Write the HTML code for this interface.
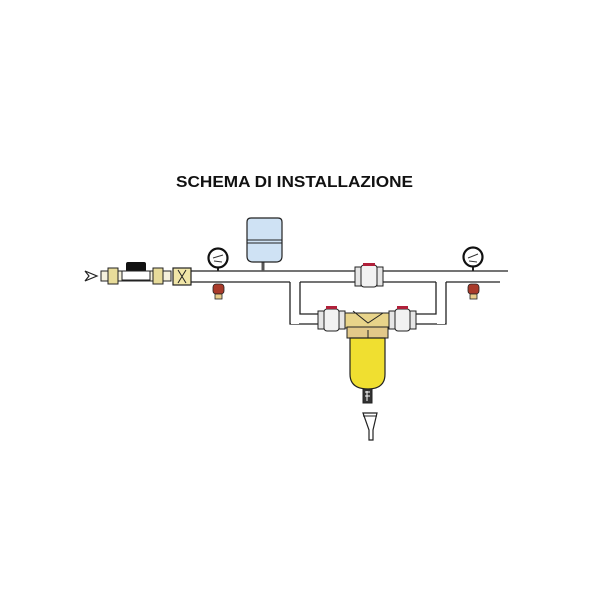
<!DOCTYPE html>
<html><head><meta charset="utf-8"><style>
html,body{margin:0;padding:0;background:#fff;width:600px;height:600px;overflow:hidden}
</style></head><body>
<svg width="600" height="600" viewBox="0 0 600 600" xmlns="http://www.w3.org/2000/svg">
<rect width="600" height="600" fill="#fff"/>
<text x="176" y="187" font-family="Liberation Sans, sans-serif" font-weight="bold" font-size="15.5" textLength="237" lengthAdjust="spacingAndGlyphs" fill="#111">SCHEMA DI INSTALLAZIONE</text>

<!-- bypass loop pipes -->
<g fill="none" stroke="#222" stroke-width="1.3">
<path d="M290 282 V324 H446 V282"/>
<path d="M300 282 V314 H436 V282"/>
</g>
<!-- main pipe -->
<rect x="190" y="271" width="318" height="11" fill="#fff"/>
<line x1="190" y1="271" x2="508" y2="271" stroke="#222" stroke-width="1.3"/>
<path d="M190 282 H290 M300 282 H436 M446 282 H500" stroke="#222" stroke-width="1.3" fill="none"/>
<rect x="291" y="283" width="8" height="41" fill="#fff"/>
<rect x="437" y="283" width="8" height="41" fill="#fff"/>
<rect x="291" y="315" width="154" height="8" fill="#fff"/>

<!-- inlet arrow -->
<path d="M85 271 L97 276 L85 281 L89 276 Z" fill="#fff" stroke="#222" stroke-width="1.2"/>
<!-- meter -->
<rect x="101" y="271" width="70" height="10" fill="#f4f0dc" stroke="#222" stroke-width="1"/>
<rect x="108" y="268" width="10" height="16" fill="#e8dc9a" stroke="#222" stroke-width="1"/>
<rect x="153" y="268" width="10" height="16" fill="#e8dc9a" stroke="#222" stroke-width="1"/>
<rect x="126" y="262" width="20" height="10" rx="2" fill="#111"/>
<rect x="122" y="271" width="28" height="9" fill="#fff" stroke="#222" stroke-width="1"/>
<!-- check valve fitting -->
<rect x="173" y="268" width="18" height="17" fill="#f1e6a8" stroke="#222" stroke-width="1.2"/>
<path d="M178 270 L186 283 M186 270 L178 283" stroke="#222" stroke-width="1"/>

<!-- left gauge -->
<line x1="218" y1="264" x2="218" y2="271" stroke="#222" stroke-width="2"/>
<circle cx="218" cy="258" r="9.5" fill="#fff" stroke="#111" stroke-width="2.2"/>
<path d="M213 258 L223 255 M214 261 L222 262" stroke="#333" stroke-width="1"/>
<!-- left red fitting -->
<rect x="213" y="284" width="11" height="10" rx="3" fill="#a93a2a" stroke="#222" stroke-width="0.8"/>
<rect x="215" y="294" width="7" height="5" fill="#e8cc8a" stroke="#222" stroke-width="0.8"/>

<!-- expansion tank -->
<line x1="263" y1="262" x2="263" y2="271" stroke="#555" stroke-width="3"/>
<path d="M247 222 Q247 218 251 218 H278 Q282 218 282 222 V256 Q282 262 276 262 H253 Q247 262 247 256 Z" fill="#cfe2f4" stroke="#222" stroke-width="1.2"/>
<line x1="247" y1="240" x2="282" y2="240" stroke="#222" stroke-width="1"/>
<line x1="247" y1="243" x2="282" y2="243" stroke="#222" stroke-width="1"/>

<!-- top bypass valve -->
<g stroke="#222" stroke-width="1" fill="#e6e6e6">
<rect x="355" y="267" width="6" height="19"/>
<rect x="377" y="267" width="6" height="19"/>
<rect x="361" y="265" width="16" height="22" rx="3" fill="#f2f2f2"/>
</g>
<rect x="363" y="263" width="12" height="3" fill="#b0203a"/>

<!-- right gauge -->
<line x1="473" y1="264" x2="473" y2="271" stroke="#222" stroke-width="2"/>
<circle cx="473" cy="257" r="9.5" fill="#fff" stroke="#111" stroke-width="2.2"/>
<path d="M468 258 L478 254 M469 261 L477 262" stroke="#333" stroke-width="1"/>
<rect x="468" y="284" width="11" height="10" rx="3" fill="#a93a2a" stroke="#222" stroke-width="0.8"/>
<rect x="470" y="294" width="7" height="5" fill="#e8cc8a" stroke="#222" stroke-width="0.8"/>

<!-- lower valves -->
<g stroke="#222" stroke-width="1" fill="#e6e6e6">
<rect x="318" y="311" width="6" height="18"/>
<rect x="339" y="311" width="6" height="18"/>
<rect x="324" y="309" width="15" height="22" rx="3" fill="#f2f2f2"/>
<rect x="389" y="311" width="6" height="18"/>
<rect x="410" y="311" width="6" height="18"/>
<rect x="395" y="309" width="15" height="22" rx="3" fill="#f2f2f2"/>
</g>
<rect x="326" y="306" width="11" height="3" fill="#b0203a"/>
<rect x="397" y="306" width="11" height="3" fill="#b0203a"/>

<!-- filter head -->
<rect x="345" y="313" width="44" height="15" fill="#e8d48a" stroke="#222" stroke-width="1"/>
<path d="M353 311 L368 323 L383 313" fill="none" stroke="#222" stroke-width="1"/>
<rect x="347" y="327" width="41" height="11" fill="#e3c98a" stroke="#222" stroke-width="1"/>
<!-- bowl -->
<path d="M350 338 H385 V374 Q385 389 368 389 Q350 389 350 374 Z" fill="#f0df30" stroke="#222" stroke-width="1.2"/>
<line x1="368" y1="330" x2="368" y2="338" stroke="#222" stroke-width="1"/>
<!-- drain -->
<rect x="363" y="389" width="9" height="14" fill="#333" stroke="#222" stroke-width="1"/>
<path d="M365 392 H370 M365 396 H370 M367 391 V401" stroke="#fff" stroke-width="1"/>
<!-- funnel -->
<path d="M363 413 H377 L373 430 V440 H369 V430 Z" fill="#fff" stroke="#222" stroke-width="1.2"/>
<line x1="363" y1="416" x2="377" y2="416" stroke="#222" stroke-width="1"/>
</svg>
</body></html>
